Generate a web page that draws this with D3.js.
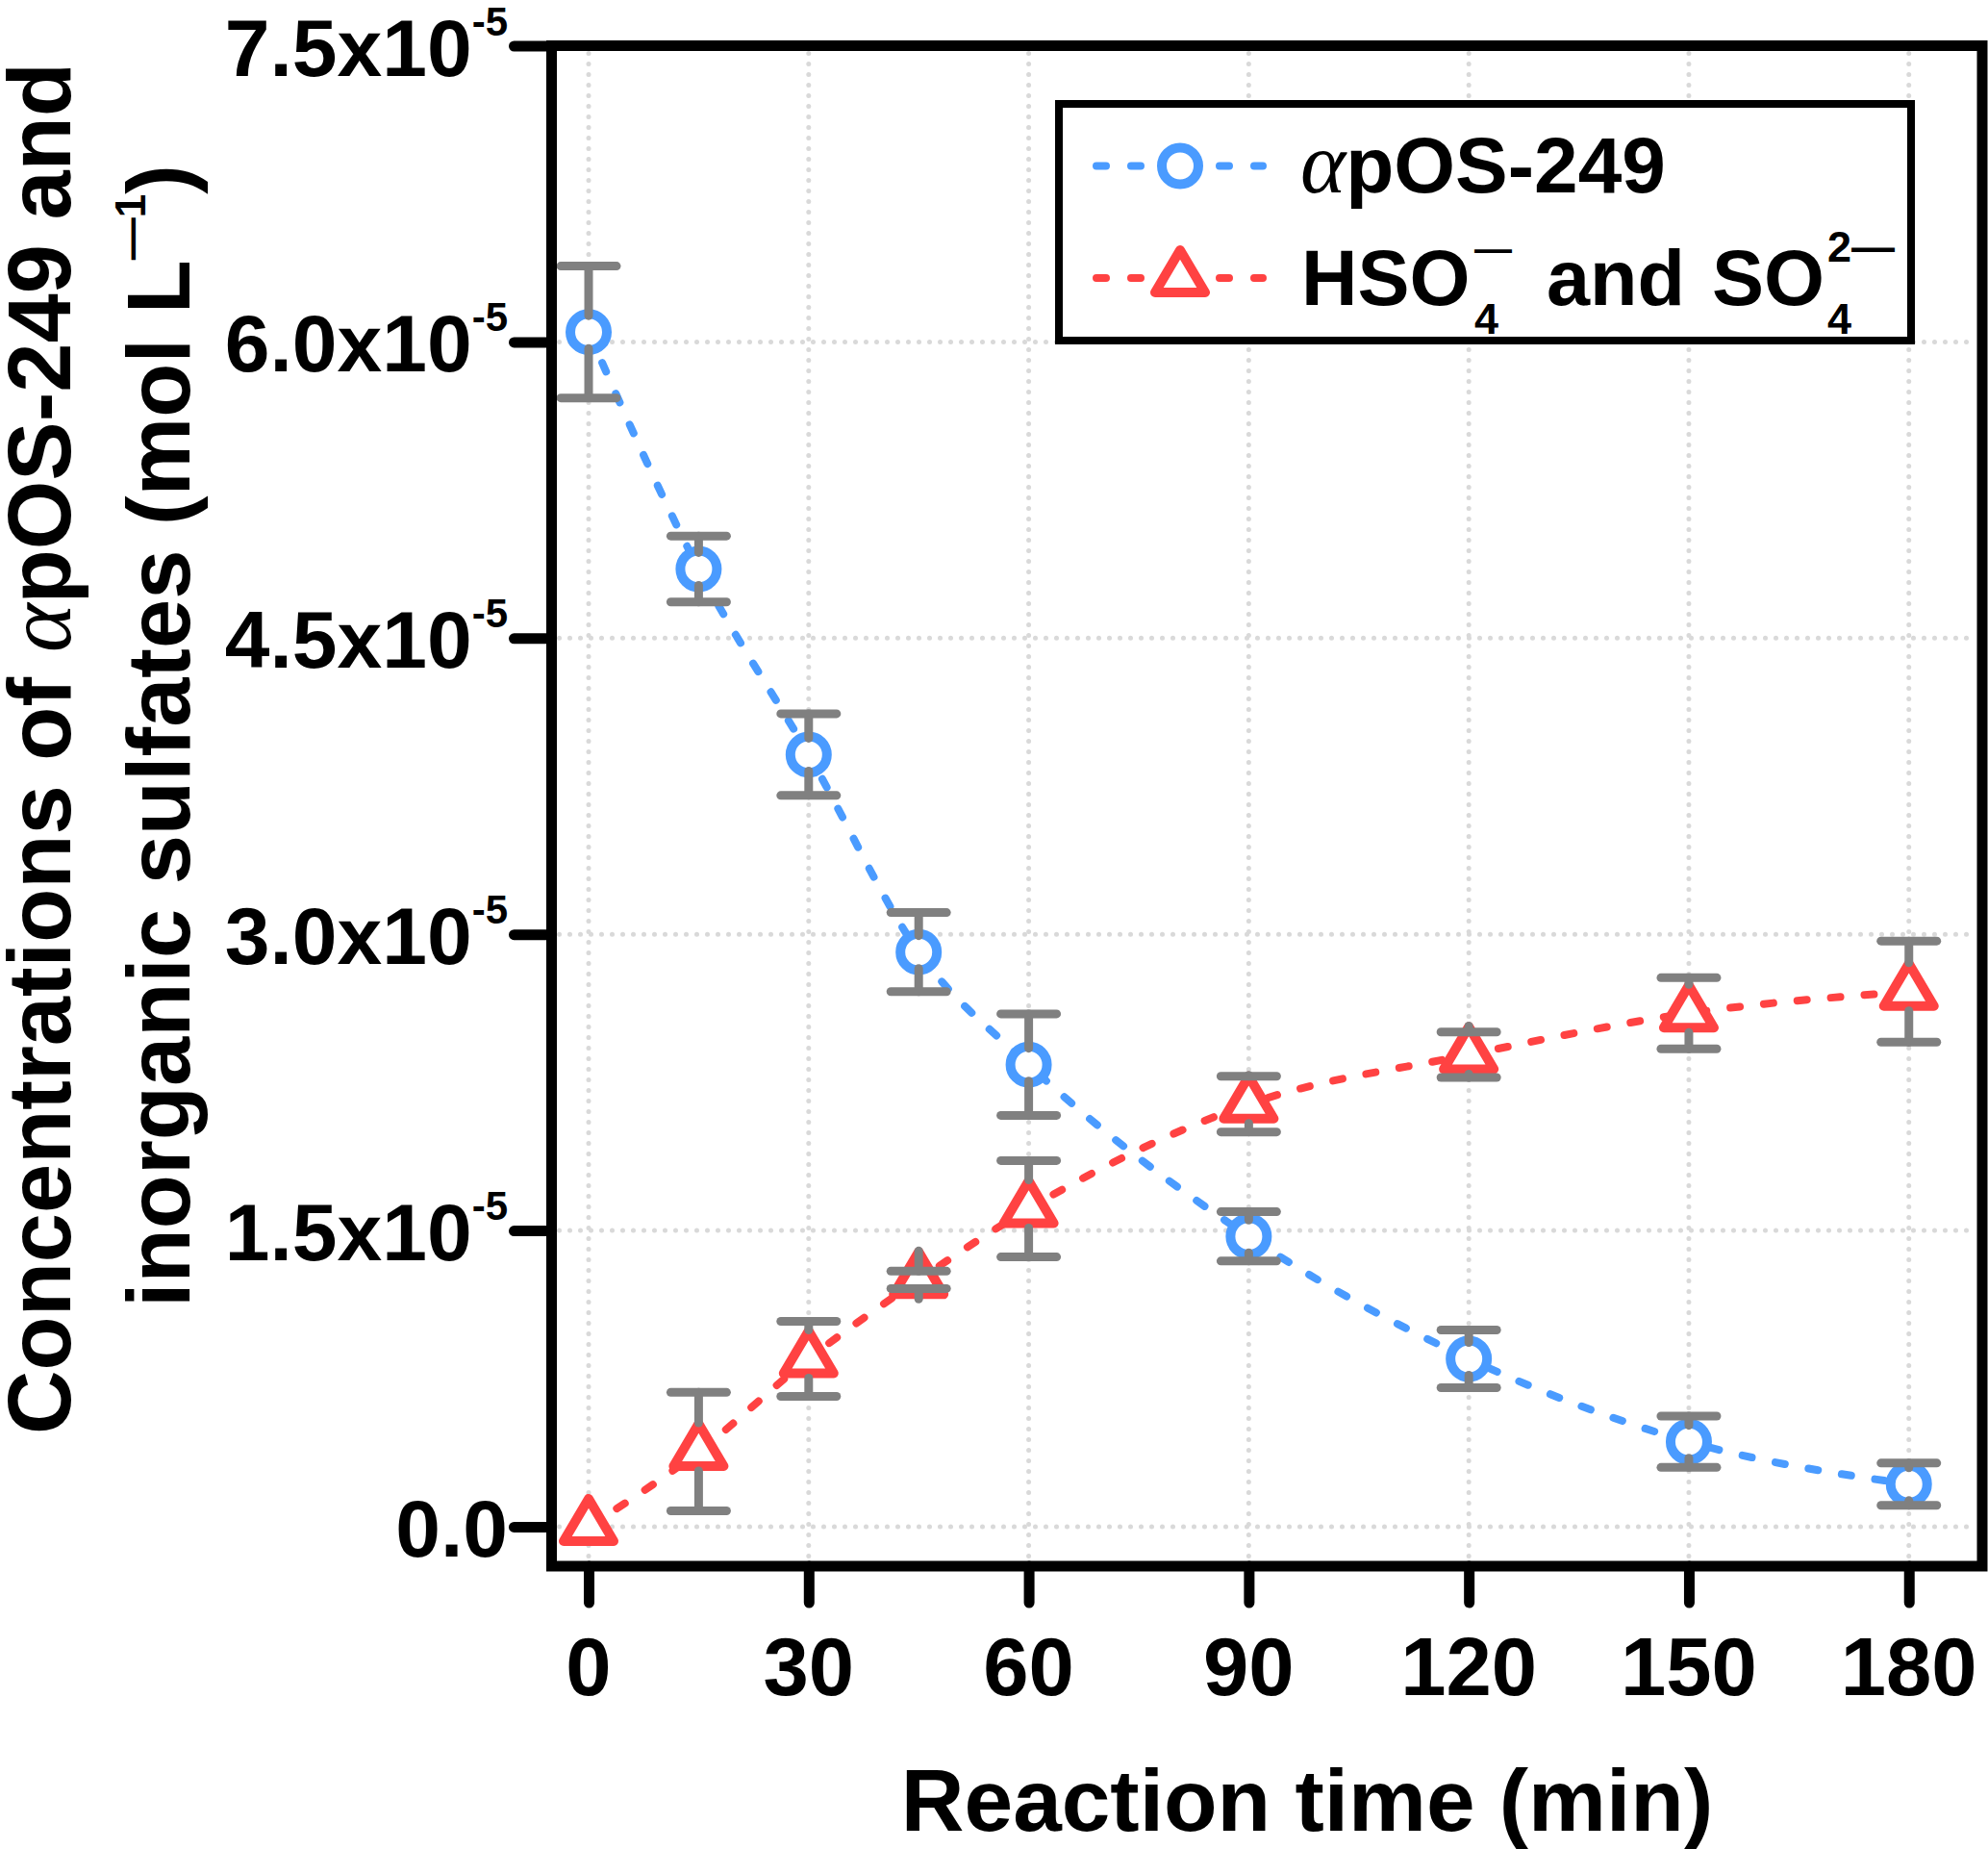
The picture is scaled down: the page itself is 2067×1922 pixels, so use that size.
<!DOCTYPE html>
<html>
<head>
<meta charset="utf-8">
<script src="https://cdn.jsdelivr.net/npm/d3@7"></script>
<style>
  body { margin: 0; background: #fff; }
  text { font-family: "Liberation Sans", Arial, sans-serif; font-weight: bold; fill: #000; }
</style>
</head>
<body>
<div id="chart"></div>
<script>
// values, concentrations in units of 1e-5 mol/L
var times = [0, 15, 30, 45, 60, 90, 120, 150, 180];
var posValues = [6.05, 4.85, 3.91, 2.91, 2.34, 1.47, 0.85, 0.43, 0.215];
var posErrors = [0.334, 0.167, 0.207, 0.2, 0.257, 0.125, 0.146, 0.13, 0.107];
var sulfValues = [0, 0.38, 0.85, 1.25, 1.61, 2.14, 2.39, 2.60, 2.71];
var sulfErrors = [0, 0.30, 0.19, 0.044, 0.244, 0.141, 0.115, 0.18, 0.256];

// ticks
var xTicks = [0, 30, 60, 90, 120, 150, 180];
var yTicks = [0, 1.5, 3.0, 4.5, 6.0, 7.5];
var yTickLabels = ["0.0", "1.5", "3.0", "4.5", "6.0", "7.5"];
var yExponent = "-5";

// svg container
var svgWidth = 2067;
var svgHeight = 1922;

// plot frame
var frame = { left: 573.5, right: 2061, top: 47.5, bottom: 1628 };

var blue = "#4a9bff";
var red = "#ff4242";
var gray = "#808080";

var svg = d3.select("#chart")
  .append("svg")
  .attr("width", svgWidth)
  .attr("height", svgHeight);

// scales
var xScale = d3.scaleLinear()
  .domain([-5.05, 190])
  .range([frame.left, frame.right]);

var yScale = d3.scaleLinear()
  .domain([-0.2, 7.5])
  .range([frame.bottom, frame.top]);

// dotted grid
var gridGroup = svg.append("g")
  .attr("stroke", "#d9d9d9")
  .attr("stroke-width", 5)
  .attr("stroke-linecap", "round")
  .attr("stroke-dasharray", "0 11");

gridGroup.selectAll(".vgrid")
  .data(xTicks)
  .enter()
  .append("line")
  .attr("x1", d => xScale(d))
  .attr("x2", d => xScale(d))
  .attr("y1", frame.top + 8)
  .attr("y2", frame.bottom - 6);

gridGroup.selectAll(".hgrid")
  .data(yTicks.filter(d => d < 7.5))
  .enter()
  .append("line")
  .attr("x1", frame.left + 8)
  .attr("x2", frame.right - 6)
  .attr("y1", d => yScale(d))
  .attr("y2", d => yScale(d));

// series
var series = [
  { name: "pos", values: posValues, errors: posErrors, color: blue, shape: "circle", gapTop: 17, gapBottom: 17 },
  { name: "sulf", values: sulfValues, errors: sulfErrors, color: red, shape: "triangle", gapTop: 30, gapBottom: 20 }
];

var line = d3.line()
  .x(d => xScale(d.t))
  .y(d => yScale(d.v))
  .curve(d3.curveMonotoneX);

var trianglePath = "M0,-29L26,15L-26,15Z";

function drawMarker(g, shape, color) {
  if (shape === "circle") {
    g.append("circle")
      .attr("r", 19)
      .attr("fill", "#fff")
      .attr("stroke", color)
      .attr("stroke-width", 10);
  }
  else {
    g.append("path")
      .attr("d", trianglePath)
      .attr("fill", "#fff")
      .attr("stroke", color)
      .attr("stroke-width", 10)
      .attr("stroke-linejoin", "round");
  }
}

series.forEach(function(s) {
  var points = times.map((t, i) => ({ t: t, v: s.values[i], e: s.errors[i] }));

  // dashed curve
  svg.append("path")
    .datum(points)
    .attr("d", line)
    .attr("fill", "none")
    .attr("stroke", s.color)
    .attr("stroke-width", 8)
    .attr("stroke-linecap", "round")
    .attr("stroke-dasharray", "10 25");

  // markers
  points.forEach(function(p) {
    var g = svg.append("g")
      .attr("transform", `translate(${xScale(p.t)}, ${yScale(p.v)})`);
    drawMarker(g, s.shape, s.color);
  });

  // error bars, from cap to marker edge
  var errGroup = svg.append("g")
    .attr("stroke", gray)
    .attr("stroke-width", 9)
    .attr("stroke-linecap", "round");

  points.filter(p => p.e > 0).forEach(function(p) {
    var cx = xScale(p.t);
    var cy = yScale(p.v);
    var yHi = yScale(p.v + p.e);
    var yLo = yScale(p.v - p.e);
    errGroup.append("line").attr("x1", cx).attr("x2", cx).attr("y1", yHi).attr("y2", cy - s.gapTop);
    errGroup.append("line").attr("x1", cx).attr("x2", cx).attr("y1", yLo).attr("y2", cy + s.gapBottom);
    errGroup.append("line").attr("x1", cx - 29).attr("x2", cx + 29).attr("y1", yHi).attr("y2", yHi);
    errGroup.append("line").attr("x1", cx - 29).attr("x2", cx + 29).attr("y1", yLo).attr("y2", yLo);
  });
});

// frame
svg.append("rect")
  .attr("x", frame.left)
  .attr("y", frame.top)
  .attr("width", frame.right - frame.left)
  .attr("height", frame.bottom - frame.top)
  .attr("fill", "none")
  .attr("stroke", "#000")
  .attr("stroke-width", 11);

// axes (ticks only, labels added below)
var leftAxis = d3.axisLeft(yScale).tickValues(yTicks).tickSize(39).tickFormat("");
var bottomAxis = d3.axisBottom(xScale).tickValues(xTicks).tickSize(38).tickFormat("");

svg.append("g")
  .attr("transform", `translate(${frame.left}, 0)`)
  .call(leftAxis)
  .call(g => g.select(".domain").remove())
  .selectAll(".tick line")
  .attr("stroke", "#000")
  .attr("stroke-width", 11)
  .attr("stroke-linecap", "round");

svg.append("g")
  .attr("transform", `translate(0, ${frame.bottom})`)
  .call(bottomAxis)
  .call(g => g.select(".domain").remove())
  .selectAll(".tick line")
  .attr("stroke", "#000")
  .attr("stroke-width", 11)
  .attr("stroke-linecap", "round");

// y tick labels
yTicks.forEach(function(v, i) {
  var label = svg.append("text")
    .attr("x", 528)
    .attr("y", yScale(v) + 31)
    .attr("text-anchor", "end")
    .style("font-size", "84px");
  if (v === 0) {
    label.text(yTickLabels[i]);
  }
  else {
    label.append("tspan").text(yTickLabels[i] + "x10");
    label.append("tspan").attr("dy", -42).style("font-size", "42px").text(yExponent);
  }
});

// x tick labels
svg.selectAll(".xlabel")
  .data(xTicks)
  .enter()
  .append("text")
  .attr("x", d => xScale(d))
  .attr("y", 1762)
  .attr("text-anchor", "middle")
  .style("font-size", "85px")
  .text(d => d);

// x axis title
svg.append("text")
  .attr("x", 1359)
  .attr("y", 1903)
  .attr("text-anchor", "middle")
  .style("font-size", "91px")
  .text("Reaction time (min)");

// y axis title, two lines
var yTitle1 = svg.append("text")
  .attr("transform", "translate(73, 778) rotate(-90)")
  .attr("text-anchor", "middle")
  .style("font-size", "92px");
yTitle1.append("tspan").text("Concentrations of ");
yTitle1.append("tspan")
  .style("font-family", "'Liberation Serif', 'Times New Roman', serif")
  .style("font-style", "italic")
  .style("font-weight", "normal")
  .style("font-size", "97px")
  .text("\u03b1");
yTitle1.append("tspan").text("pOS-249 and");

var yTitle2 = svg.append("text")
  .attr("transform", "translate(197, 765) rotate(-90)")
  .attr("text-anchor", "middle")
  .style("font-size", "92px");
yTitle2.append("tspan").text("inorganic sulfates (mol L");
yTitle2.append("tspan").attr("dy", -46).style("font-size", "44px").text("\u20141");
yTitle2.append("tspan").attr("dy", 46).text(")");

// legend
var legend = svg.append("g");

legend.append("rect")
  .attr("x", 1101)
  .attr("y", 108)
  .attr("width", 886)
  .attr("height", 246)
  .attr("fill", "#fff")
  .attr("stroke", "#000")
  .attr("stroke-width", 8);

var legendRows = [
  { s: series[0], y: 172.5 },
  { s: series[1], y: 289 }
];

legendRows.forEach(function(row) {
  [[1140, 1186], [1268, 1313]].forEach(function(seg) {
    legend.append("line")
      .attr("x1", seg[0])
      .attr("x2", seg[1])
      .attr("y1", row.y)
      .attr("y2", row.y)
      .attr("stroke", row.s.color)
      .attr("stroke-width", 8)
      .attr("stroke-linecap", "round")
      .attr("stroke-dasharray", "10 26");
  });
  var g = legend.append("g").attr("transform", `translate(1227, ${row.y})`);
  drawMarker(g, row.s.shape, row.s.color);
});

var legendText1 = legend.append("text")
  .attr("x", 1352)
  .attr("y", 200)
  .style("font-size", "82px");
legendText1.append("tspan")
  .style("font-family", "'Liberation Serif', 'Times New Roman', serif")
  .style("font-style", "italic")
  .style("font-weight", "normal")
  .style("font-size", "90px")
  .text("\u03b1");
legendText1.append("tspan").text("pOS-249");

var legendText2 = legend.append("text")
  .style("font-size", "81px");
legendText2.append("tspan").attr("x", 1353).attr("y", 317).text("HSO");
legendText2.append("tspan").attr("x", 1533).attr("y", 347).style("font-size", "45px").text("4");
legendText2.append("tspan").attr("x", 1533).attr("y", 272).style("font-size", "39px").text("\u2014");
legendText2.append("tspan").attr("x", 1608).attr("y", 317).text("and");
legendText2.append("tspan").attr("x", 1780).attr("y", 317).text("SO");
legendText2.append("tspan").attr("x", 1900).attr("y", 347).style("font-size", "45px").text("4");
legendText2.append("tspan").attr("x", 1900).attr("y", 272).style("font-size", "45px").text("2\u2014");
</script>
</body>
</html>
